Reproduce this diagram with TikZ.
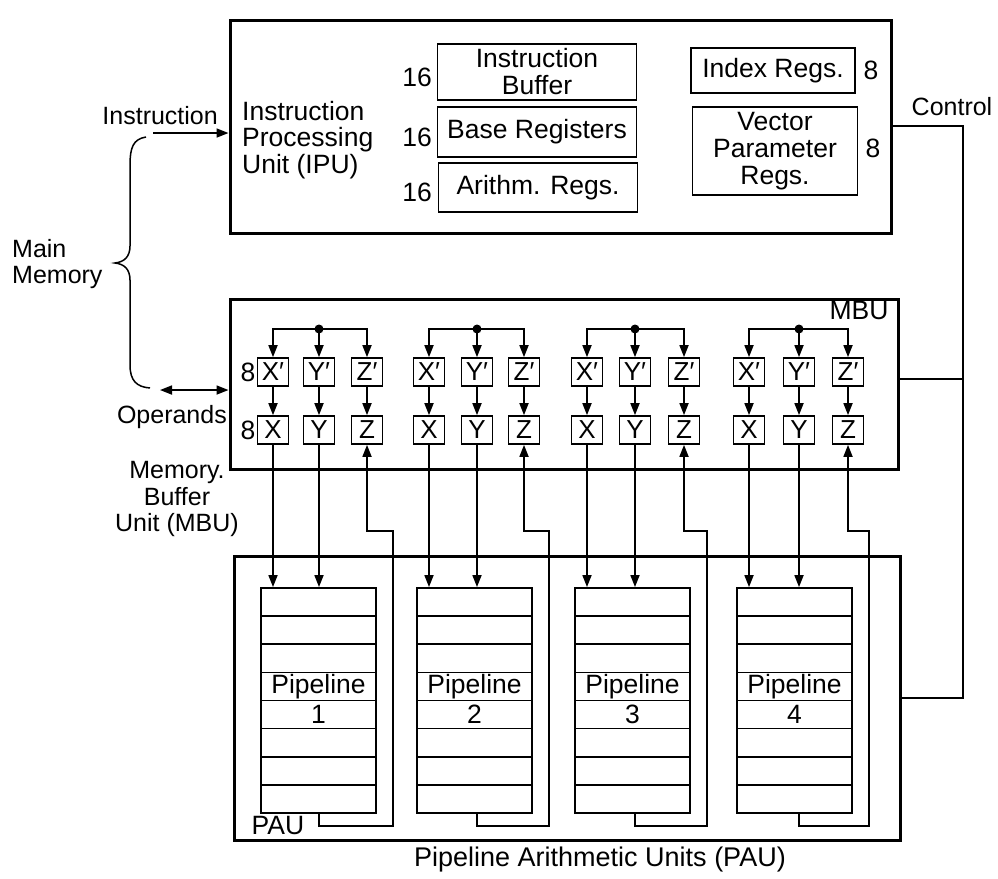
\documentclass[tikz,border=0pt]{standalone}
\usepackage{fontspec}
\setmainfont{Liberation Sans}
\usetikzlibrary{arrows.meta}
\begin{document}
\begin{tikzpicture}[x=1pt,y=-1pt,
  txt/.style={font=\fontsize{26.5}{26.5}\selectfont, inner sep=0pt},
  sidetxt/.style={font=\fontsize{25}{26.5}\selectfont, inner sep=0pt},
  unitbox/.style={draw, line width=3pt, inner sep=0pt},
  regbox/.style={draw, line width=1.8pt, inner sep=0pt, align=center,
    font=\fontsize{26.5}{27}\selectfont},
  cell/.style={draw, line width=1.7pt, minimum width=31pt, minimum height=28pt,
    inner sep=0pt, font=\fontsize{26}{26}\selectfont},
  pipebox/.style={draw, line width=1.8pt, minimum width=115pt, minimum height=225pt, inner sep=0pt},
  wire/.style={line width=1.7pt},
  tip/.tip={Triangle[length=12pt,width=9pt]},
  arr/.style={wire, -tip},
]
\useasboundingbox (0,0) rectangle (998,878);

% ---------------- Instruction Processing Unit ----------------
\node[unitbox, minimum width=661pt, minimum height=213pt] (ipu) at (560.5,126.5) {};
\node[txt, align=left, anchor=west] (ipulbl) at (242,140)
  {Instruction\\Processing\\Unit (IPU)};

\node[regbox, minimum width=199pt, minimum height=56pt] (ibuf) at (537,72) {Instruction\\Buffer};
\node[regbox, minimum width=199pt, minimum height=50pt] (base) at (537,132) {Base Registers};
\node[regbox, minimum width=199pt, minimum height=49pt] (arith) at (538,187.5) {Arithm. Regs.};
\node[txt, anchor=east] (n16a) at (432,77) {16};
\node[txt, anchor=east] (n16b) at (432,137) {16};
\node[txt, anchor=east] (n16c) at (432,192) {16};

\node[regbox, minimum width=164pt, minimum height=45pt] (idx) at (773,70.5) {Index Regs.};
\node[regbox, minimum width=165pt, minimum height=88pt] (vpar) at (775,151) {Vector\\Parameter\\Regs.};
\node[txt] (n8a) at (871,70) {8};
\node[txt] (n8b) at (873,148) {8};

% ---------------- Memory Buffer Unit ----------------
\node[unitbox, minimum width=668pt, minimum height=170pt] (mbu) at (564,384) {};
\node[txt] (mbulbl) at (859,311) {MBU};
\node[txt] (n8c) at (248,372) {8};
\node[txt] (n8d) at (248,430) {8};

% ---------------- Pipeline Arithmetic Units ----------------
\node[unitbox, minimum width=666pt, minimum height=284pt] (pau) at (567,698) {};
\node[txt] (paulbl) at (278,826) {PAU};
\node[font=\fontsize{27}{27}\selectfont, inner sep=0pt] (pautitle) at (600,860) {Pipeline Arithmetic Units (PAU)};

% ---------------- buffer groups and pipelines ----------------
\foreach \g/\xc/\yc/\zc/\pl in {1/273/319/367/261,2/429/477/524/417,3/587/635/684/575,4/749/799/848/737}{
  \node[cell] (xp\g) at (\xc,372) {X′};
  \node[cell] (yp\g) at (\yc,372) {Y′};
  \node[cell] (zp\g) at (\zc,372) {Z′};
  \node[cell] (x\g) at (\xc,430) {X};
  \node[cell] (y\g) at (\yc,430) {Y};
  \node[cell] (z\g) at (\zc,430) {Z};
  \coordinate (bus\g) at (\yc,329);
  \draw[arr] (bus\g) -| (xp\g);
  \draw[arr] (bus\g) -| (zp\g);
  \draw[arr] (bus\g) -- (yp\g);
  \fill (bus\g) circle (4.5pt);
  \draw[arr] (xp\g) -- (x\g);
  \draw[arr] (yp\g) -- (y\g);
  \draw[arr] (zp\g) -- (z\g);
  % pipeline with eight stages
  \node[pipebox] (pipe\g) at (\pl+57.5,700.5) {};
  \foreach \k in {1,...,7}
    \draw[line width=1.6pt] (\pl,588+\k*28.125) -- (\pl+115,588+\k*28.125);
  \node[txt] (pl\g) at (\pl+57.5,686.4) {Pipeline};
  \node[txt] (pn\g) at (\pl+57.5,714.5) {\g};
  % operands into the pipeline
  \draw[arr] (x\g) -- (x\g |- pipe\g.north);
  \draw[arr] (y\g) -- (y\g |- pipe\g.north);
  % result back to the Z buffer
  \draw[arr] (y\g |- pipe\g.south) -- (\yc,826) -- (\pl+132,826)
    -- (\pl+132,531) -- (\zc,531) -- (z\g);
}

% ---------------- control lines ----------------
\coordinate (ctltop) at (963,126);
\coordinate (ctlmid) at (963,379);
\coordinate (ctlbot) at (963,698);
\draw[wire] (ctltop -| ipu.east) -- (ctltop) -- (ctlbot) -- (ctlbot -| pau.east);
\draw[wire] (ctlmid) -- (ctlmid -| mbu.east);
\node[sidetxt] (ctllbl) at (952,107) {Control};

% ---------------- main memory side ----------------
\coordinate (instr) at (153,133);
\draw[arr] (instr) -- (instr -| ipu.west);
\node[sidetxt, anchor=east] (instrlbl) at (218,116) {Instruction};

\coordinate (opd) at (160,390);
\draw[wire, tip-tip] (opd) -- (opd -| mbu.west);
\node[sidetxt, anchor=east] (opdlbl) at (227,417) {Operands};

\draw[line width=1.5pt] (146,137) .. controls (133,139) and (130,148) .. (130,165)
  -- (130,246) .. controls (130,257) and (124,262) .. (115,263)
  .. controls (124,264) and (130,269) .. (130,280)
  -- (130,365) .. controls (130,381) and (137,387) .. (150,388);
\node[sidetxt, align=left, anchor=west] (mainmem) at (12,264) {Main\\Memory};

\node[sidetxt, align=center] (mbuname) at (177,499) {Memory.\\Buffer\\Unit (MBU)};
\end{tikzpicture}
\end{document}
